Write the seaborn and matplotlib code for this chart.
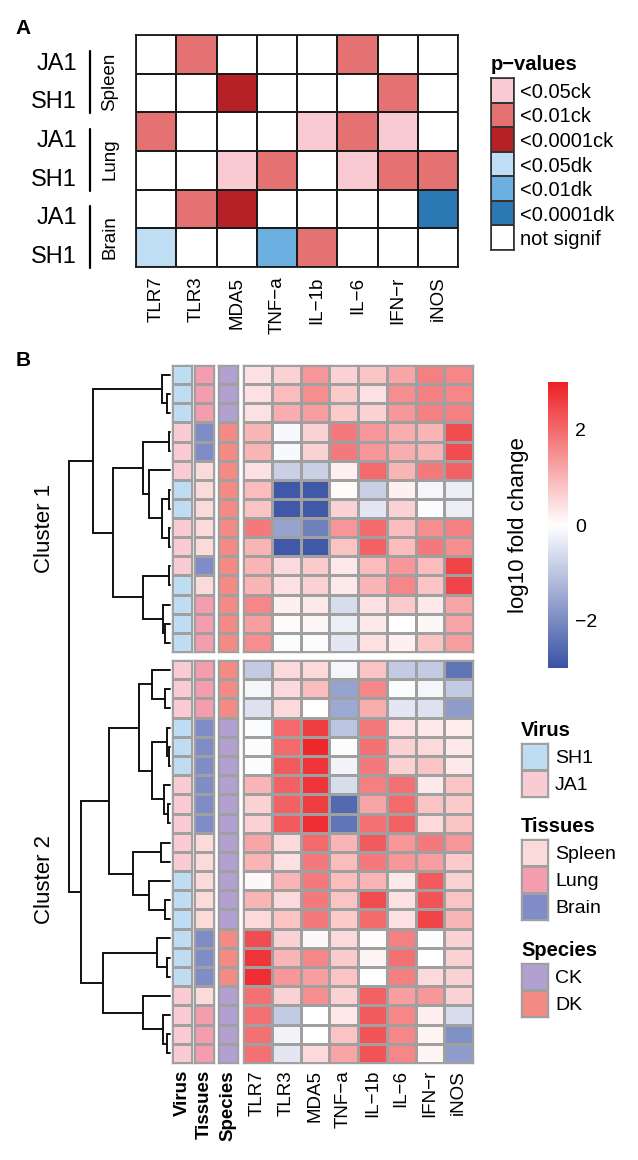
import numpy as np
import matplotlib
matplotlib.use('Agg')
import matplotlib.pyplot as plt
import seaborn as sns
from matplotlib.colors import ListedColormap, LinearSegmentedColormap
from matplotlib.transforms import blended_transform_factory

sns.set_style('white')
plt.rcParams['font.family'] = ['Liberation Sans', 'DejaVu Sans']
plt.rcParams['text.color'] = 'black'
plt.rcParams['axes.labelcolor'] = 'black'
plt.rcParams['xtick.color'] = 'black'
plt.rcParams['ytick.color'] = 'black'

# ---------------- data ----------------
genes = ['TLR7', 'TLR3', 'MDA5', 'TNF−a', 'IL−1b', 'IL−6', 'IFN−r', 'iNOS']

# panel A: significance calls
pa_rows = ['JA1', 'SH1', 'JA1', 'SH1', 'JA1', 'SH1']
pa_tissues = ['Spleen', 'Lung', 'Brain']
pval_levels = ['<0.05ck', '<0.01ck', '<0.0001ck', '<0.05dk', '<0.01dk', '<0.0001dk', 'not signif']
pval_colors = ['#F9CAD2', '#E57272', '#B52126', '#BFDDF3', '#6CAFE1', '#2B78B2', '#FFFFFF']
ns = 'not signif'
pa_calls = [
    [ns, '<0.01ck', ns, ns, ns, '<0.01ck', ns, ns],
    [ns, ns, '<0.0001ck', ns, ns, ns, '<0.01ck', ns],
    ['<0.01ck', ns, ns, ns, '<0.05ck', '<0.01ck', '<0.05ck', ns],
    [ns, ns, '<0.05ck', '<0.01ck', ns, '<0.05ck', '<0.01ck', '<0.01ck'],
    [ns, '<0.01ck', '<0.0001ck', ns, ns, ns, ns, '<0.0001dk'],
    ['<0.05dk', ns, ns, '<0.01dk', '<0.01ck', ns, ns, ns],
]

# panel B: row annotations (in dendrogram order)
virus = ['SH1', 'SH1', 'SH1', 'JA1', 'JA1', 'JA1', 'SH1', 'SH1', 'JA1', 'JA1', 'JA1', 'SH1',
         'SH1', 'SH1', 'SH1',
         'JA1', 'JA1', 'JA1', 'SH1', 'SH1', 'SH1', 'JA1', 'JA1', 'JA1', 'JA1', 'JA1', 'SH1',
         'SH1', 'SH1', 'SH1', 'SH1', 'SH1', 'JA1', 'JA1', 'JA1', 'JA1']
tissues = ['Lung', 'Lung', 'Lung', 'Brain', 'Brain', 'Spleen', 'Spleen', 'Spleen', 'Spleen', 'Spleen',
           'Brain', 'Spleen', 'Lung', 'Lung', 'Lung',
           'Lung', 'Lung', 'Lung', 'Brain', 'Brain', 'Brain', 'Brain', 'Brain', 'Brain', 'Spleen',
           'Spleen', 'Spleen', 'Spleen', 'Spleen', 'Brain', 'Brain', 'Brain', 'Spleen', 'Lung', 'Lung', 'Lung']
species = ['CK', 'CK', 'CK'] + ['DK'] * 15 + ['CK'] * 11 + ['DK'] * 3 + ['CK'] * 4

virus_levels, virus_colors = ['SH1', 'JA1'], ['#BEDDF2', '#F9CBD3']
tissue_levels, tissue_colors = ['Spleen', 'Lung', 'Brain'], ['#FBDADA', '#F49DAF', '#7F8CC8']
species_levels, species_colors = ['CK', 'DK'], ['#B2A0D1', '#F38B84']

log_fc = [
    [0.4, 0.6, 1.4, 0.6, 0.8, 1.2, 1.7, 1.6],
    [0.4, 0.9, 1.5, 0.7, 0.4, 1.5, 1.7, 1.6],
    [0.4, 1.1, 1.3, 0.7, 0.6, 1.4, 1.7, 1.7],
    [1.0, -0.1, 0.6, 1.8, 1.4, 1.1, 1.0, 2.4],
    [1.0, -0.1, 0.6, 1.8, 1.4, 1.1, 1.0, 2.4],
    [0.4, -0.8, -0.8, 0.2, 2.0, 1.0, 1.8, 2.1],
    [0.9, -2.9, -2.9, 0.05, -0.8, 0.2, -0.15, -0.3],
    [0.8, -2.9, -2.9, 0.6, -0.4, 0.6, -0.05, -0.3],
    [1.8, -1.6, -2.2, 1.4, 2.0, 0.9, 1.5, 1.7],
    [1.0, -2.9, -2.9, 0.8, 2.1, 0.9, 1.8, 1.5],
    [1.0, 0.5, 0.7, 0.3, 0.9, 1.4, 0.9, 2.5],
    [1.0, 0.4, 0.6, 0.3, 1.0, 1.6, 0.8, 2.5],
    [1.6, 0.2, 0.3, -0.6, 0.4, 0.7, 0.3, 1.2],
    [1.3, 0.05, 0.1, -0.3, 0.3, 0.0, 0.1, 1.2],
    [1.5, -0.05, -0.05, -0.4, 0.4, 0.2, 0.8, 1.3],
    [-0.9, 0.5, 0.5, -0.15, 0.8, -0.9, -0.9, -2.4],
    [-0.15, 0.5, 0.9, -1.6, 1.6, -0.05, -0.15, -0.9],
    [-0.5, 0.5, 0.02, -1.5, 1.1, -0.4, -0.5, -1.7],
    [-0.05, 2.0, 2.6, -1.0, 1.8, 0.4, 0.3, 0.25],
    [-0.05, 2.0, 2.9, -0.05, 1.9, 0.6, 0.5, 0.3],
    [-0.05, 2.2, 2.7, -0.2, 1.8, 0.6, 0.8, 0.3],
    [1.0, 2.1, 2.7, -0.6, 1.7, 1.9, 0.3, 0.8],
    [0.6, 2.1, 2.6, -2.6, 1.2, 2.0, 0.8, 0.7],
    [0.6, 2.2, 2.8, -2.4, 1.9, 2.1, 0.5, 0.8],
    [1.2, 0.5, 2.0, 1.0, 2.2, 1.4, 1.8, 1.4],
    [1.0, 0.4, 1.8, 0.9, 1.8, 1.4, 1.3, 0.7],
    [0.1, 1.0, 1.8, 0.9, 1.0, 0.3, 2.2, 0.6],
    [1.0, 0.5, 1.8, 0.8, 2.4, 0.4, 2.3, 0.8],
    [0.5, 0.8, 1.8, 0.7, 2.0, 0.4, 2.5, 1.0],
    [2.4, 0.6, 0.1, 0.5, 0.05, 1.7, -0.05, 0.6],
    [2.7, 1.0, 1.6, 0.7, 0.15, 1.9, 0.02, 0.6],
    [2.8, 1.4, 1.3, 0.8, -0.02, 1.7, 0.5, 0.6],
    [1.9, 0.6, 1.5, 0.6, 2.1, 1.3, 1.4, 0.6],
    [1.9, -0.9, 0.02, 0.3, 2.2, 1.6, 0.2, -0.6],
    [1.9, -0.2, 0.02, 0.8, 2.3, 1.6, 0.15, -1.9],
    [1.9, -0.4, 0.5, 1.2, 2.3, 1.6, 0.15, -1.7],
]
n_cluster1 = 15

# row dendrogram: (left, right, height); leaves 0..35, merge k -> id 36+k
merges = [
    (1, 2, 0.03), (0, 36, 0.08), (3, 4, 0.01), (6, 7, 0.01), (8, 9, 0.015),
    (39, 40, 0.08), (5, 41, 0.21), (38, 42, 0.27), (10, 11, 0.01), (13, 14, 0.05),
    (12, 45, 0.07), (44, 46, 0.27), (43, 47, 0.57), (37, 48, 0.77),
    (16, 17, 0.05), (15, 50, 0.18), (19, 20, 0.01), (18, 52, 0.03), (22, 23, 0.02),
    (21, 54, 0.06), (53, 55, 0.18), (51, 56, 0.31), (24, 25, 0.09), (27, 28, 0.05),
    (26, 59, 0.21), (58, 60, 0.37), (57, 61, 0.61), (30, 31, 0.03), (29, 63, 0.13),
    (34, 35, 0.03), (33, 65, 0.07), (32, 66, 0.27), (64, 67, 0.67), (62, 68, 0.89),
    (49, 69, 1.01),
]

# ---------------- figure ----------------
W, H = 638, 1160
fig = plt.figure(figsize=(W / 100, H / 100), dpi=100)


def box(x0, y0, x1, y1):
    return fig.add_axes([x0 / W, 1 - y1 / H, (x1 - x0) / W, (y1 - y0) / H])


def frame(ax, color, lw):
    for s in ax.spines.values():
        s.set_visible(True)
        s.set_color(color)
        s.set_linewidth(lw)


# ---- panel A ----
axA = box(136, 35, 458, 267)
codes = np.array([[pval_levels.index(c) for c in row] for row in pa_calls])
sns.heatmap(codes, ax=axA, cmap=ListedColormap(pval_colors), vmin=-0.5, vmax=len(pval_levels) - 0.5,
            cbar=False, linewidths=1.3, linecolor='#1a1a1a', xticklabels=genes, yticklabels=False)
frame(axA, '#1a1a1a', 1.3)
axA.tick_params(axis='x', length=0, pad=7, labelsize=13.5, labelrotation=90)

tA = blended_transform_factory(fig.transFigure, axA.transData)
for i, lab in enumerate(pa_rows):
    axA.text(77 / W, i + 0.74, lab, transform=tA, ha='right', va='center', fontsize=17)
for k, t in enumerate(pa_tissues):
    axA.plot([90 / W, 90 / W], [2 * k + 0.42, 2 * k + 2.03], transform=tA, color='k', lw=1.6, clip_on=False)
    axA.text(110 / W, 2 * k + 1.22, t, transform=tA, rotation=90, ha='center', va='center', fontsize=13.5)

axL = box(491, 78, 514, 250)
sns.heatmap(np.arange(len(pval_levels)).reshape(-1, 1), ax=axL, cmap=ListedColormap(pval_colors),
            vmin=-0.5, vmax=len(pval_levels) - 0.5, cbar=False, linewidths=1.2, linecolor='#333333',
            xticklabels=False, yticklabels=pval_levels)
frame(axL, '#333333', 1.2)
axL.yaxis.tick_right()
axL.tick_params(axis='y', length=0, pad=4, labelsize=14.5, labelrotation=0)
axL.set_title('p−values', loc='left', fontweight='bold', fontsize=14.5, pad=6)

fig.text(23 / W, 1 - 29 / H, 'A', fontweight='bold', fontsize=15, ha='center', va='center')
fig.text(23 / W, 1 - 361 / H, 'B', fontweight='bold', fontsize=15, ha='center', va='center')

# ---- panel B ----
cmap_fc = LinearSegmentedColormap.from_list('fc', ['#3953A4', '#FFFFFF', '#ED2024'])
fc = np.array(log_fc)
grid = '#A0A0A0'
ann_specs = [
    ('Virus', virus, virus_levels, virus_colors, 172, 192),
    ('Tissues', tissues, tissue_levels, tissue_colors, 194, 214),
    ('Species', species, species_levels, species_colors, 218, 238),
]
groups = [(0, n_cluster1, 365, 652), (n_cluster1, len(log_fc), 660, 1063)]
cax = box(548, 382, 568, 668)
cb = None

for gi, (a, b, y0, y1) in enumerate(groups):
    last = gi == len(groups) - 1
    for name, vals, levels, cols, x0, x1 in ann_specs:
        ax = box(x0, y0, x1, y1)
        c = np.array([levels.index(v) for v in vals[a:b]]).reshape(-1, 1)
        sns.heatmap(c, ax=ax, cmap=ListedColormap(cols), vmin=-0.5, vmax=len(levels) - 0.5, cbar=False,
                    linewidths=0.9, linecolor=grid, xticklabels=[name] if last else False, yticklabels=False)
        frame(ax, grid, 1.0)
        if last:
            ax.tick_params(axis='x', length=0, pad=5, labelsize=13.5, labelrotation=90)
            for t in ax.get_xticklabels():
                t.set_fontweight('bold')
    axH = box(243, y0, 473, y1)
    sns.heatmap(fc[a:b], ax=axH, cmap=cmap_fc, vmin=-3, vmax=3, linewidths=0.9, linecolor=grid,
                cbar=gi == 0, cbar_ax=cax if gi == 0 else None,
                xticklabels=genes if last else False, yticklabels=False)
    frame(axH, grid, 1.0)
    if gi == 0:
        cb = axH.collections[0].colorbar
    if last:
        axH.tick_params(axis='x', length=0, pad=5, labelsize=13.5, labelrotation=90)

cb.set_ticks([-2, 0, 2])
cb.outline.set_visible(False)
cax.tick_params(length=0, labelsize=14, pad=5)
cb.set_label('log10 fold change', fontsize=16, labelpad=14)
cax.yaxis.set_label_position('left')

# dendrogram
axD = box(60, 365, 170, 1063)
gap = 8 / 19.17
pos = {i: i + 0.5 + (gap if i >= n_cluster1 else 0) for i in range(len(log_fc))}
hgt = {i: 0.0 for i in range(len(log_fc))}
for k, (l, r, h) in enumerate(merges):
    axD.plot([hgt[l], h, h, hgt[r]], [pos[l], pos[l], pos[r], pos[r]], color='#111111', lw=1.4,
             clip_on=False, solid_joinstyle='miter')
    pos[len(log_fc) + k] = (pos[l] + pos[r]) / 2
    hgt[len(log_fc) + k] = h
axD.set_xlim(1.10, 0)
axD.set_ylim(len(log_fc) + gap, 0)
axD.axis('off')

fig.text(45 / W, 1 - 528 / H, 'Cluster 1', rotation=90, ha='center', va='center', fontsize=16)
fig.text(45 / W, 1 - 880 / H, 'Cluster 2', rotation=90, ha='center', va='center', fontsize=16)

# annotation legends
leg_specs = [
    ('Virus', virus_levels, virus_colors, 743),
    ('Tissues', tissue_levels, tissue_colors, 839),
    ('Species', species_levels, species_colors, 963),
]
for title, levels, cols, top in leg_specs:
    ax = box(521, top, 548, top + 27 * len(levels))
    sns.heatmap(np.arange(len(levels)).reshape(-1, 1), ax=ax, cmap=ListedColormap(cols),
                vmin=-0.5, vmax=len(levels) - 0.5, cbar=False, linewidths=1.0, linecolor=grid,
                xticklabels=False, yticklabels=levels)
    frame(ax, grid, 1.0)
    ax.yaxis.tick_right()
    ax.tick_params(axis='y', length=0, pad=5, labelsize=14, labelrotation=0)
    ax.set_title(title, loc='left', fontweight='bold', fontsize=14.5, pad=5)

fig.savefig('out.png', dpi=100)
